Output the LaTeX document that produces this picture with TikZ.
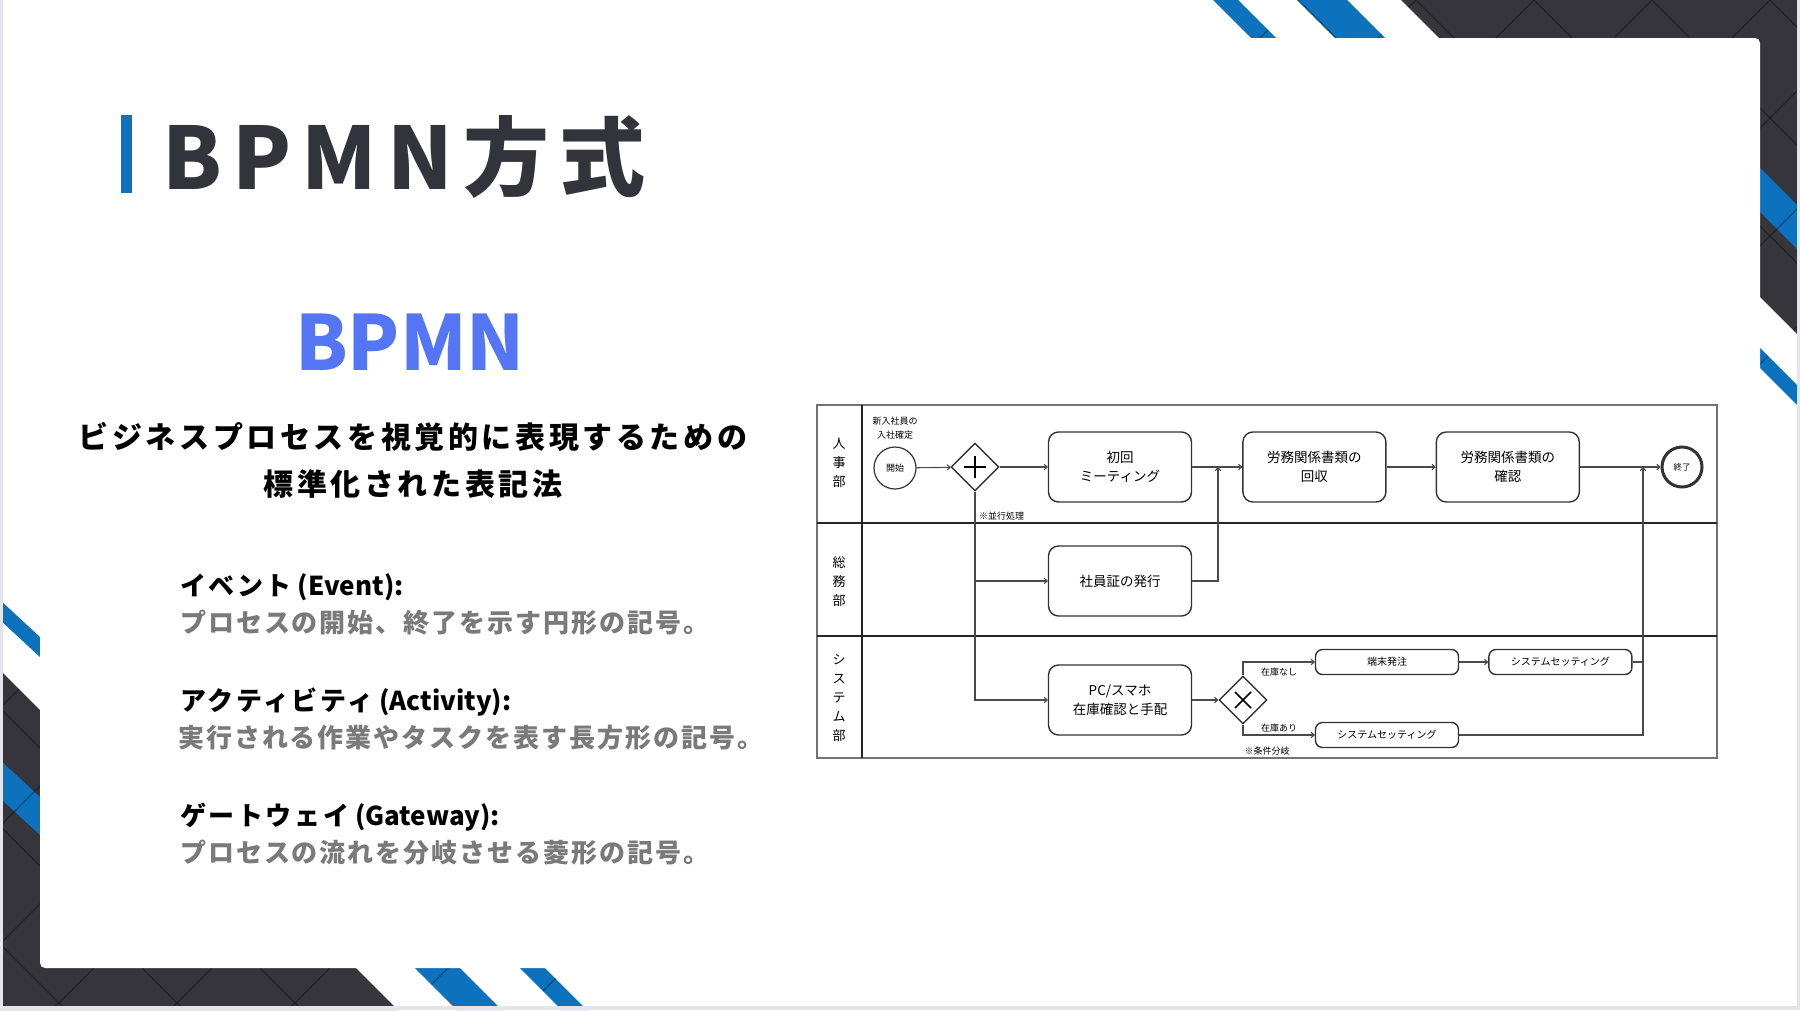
\documentclass[tikz,border=0pt]{standalone}
\usepackage{fontspec}
\setmainfont{Noto Sans CJK JP}
\newfontfamily\spacedfont{Noto Sans CJK JP}[LetterSpace=10]
\newfontfamily\leadfont{Noto Sans CJK JP}[LetterSpace=12]
\newfontfamily\detailfont{Noto Sans CJK JP}[LetterSpace=7.5]
\newfontfamily\titlefont{Noto Sans CJK JP}[LetterSpace=12]
\usepackage{tikz}
\usetikzlibrary{shapes.geometric, arrows.meta, positioning}

\definecolor{slatedark}{HTML}{35353B}
\definecolor{ribbonblue}{HTML}{0D72BD}
\definecolor{titleink}{HTML}{33333B}
\definecolor{bpmnblue}{HTML}{5476F5}
\definecolor{notegray}{HTML}{7A7A7A}
\definecolor{pageedge}{HTML}{E4E5EA}
\definecolor{flowgray}{HTML}{4A4A4A}

\newcommand{\fsz}[2]{\fontsize{#1}{#2}\selectfont}

\begin{document}
\begin{tikzpicture}[x=1pt, y=-1pt,
    task/.style={draw=black!80, line width=1.4pt, rounded corners=10pt, minimum width=143pt,
      minimum height=70pt, align=center, inner sep=0pt, font=\fsz{13.5}{19}},
    minitask/.style={task, minimum height=25pt, rounded corners=7pt, font=\fsz{10}{12}},
    event/.style={draw=black!80, circle, line width=1.2pt, minimum size=42pt, inner sep=0pt, font=\fsz{9}{10}},
    gateway/.style={draw=black!80, diamond, aspect=1, line width=1.4pt, minimum size=48pt, inner sep=0pt},
    note/.style={inner sep=0pt, align=center, font=\fsz{9}{14}},
    lanelabel/.style={inner sep=0pt, align=center, font=\fsz{13}{19}},
    flow/.style={draw=flowgray, line width=1.1pt, -{To[length=4pt,width=6pt]}},
    plainflow/.style={draw=flowgray, line width=1.1pt},
    lanerule/.style={draw=black!85, line width=1.4pt},
    latticeline/.style={draw=black, opacity=0.35, line width=1.2pt},
    heading/.style={anchor=base west, inner sep=0pt, font=\bfseries\fsz{26}{30}},
    detail/.style={anchor=base west, inner sep=0pt, text=notegray, font=\detailfont\bfseries\fsz{26}{30}}]

\useasboundingbox (0,0) rectangle (1800,1010);
\fill[white] (0,0) rectangle (1800,1010);

% corner decoration
\fill[slatedark] (1401,0) -- (1800,0) -- (1800,337) -- (1723,260) -- (1723,60) -- (1461,60) -- cycle;
\fill[slatedark] (0,670) -- (70,740) -- (70,932) -- (320,932) -- (398,1010) -- (0,1010) -- cycle;
\fill[ribbonblue] (1213,0) -- (1238,0) -- (1303,65) -- (1278,65) -- cycle;
\fill[ribbonblue] (1297,0) -- (1347,0) -- (1412,65) -- (1362,65) -- cycle;
\fill[ribbonblue] (1723,131) -- (1800,208) -- (1800,252) -- (1723,175) -- cycle;
\fill[ribbonblue] (1723,311) -- (1800,388) -- (1800,408) -- (1723,331) -- cycle;
\fill[ribbonblue] (0,600) -- (40,637) -- (40,657) -- (0,620) -- cycle;
\fill[ribbonblue] (0,760) -- (40,797) -- (40,835) -- (0,798) -- cycle;
\fill[ribbonblue] (382,935) -- (427,935) -- (502,1010) -- (457,1010) -- cycle;
\fill[ribbonblue] (487,935) -- (512,935) -- (587,1010) -- (562,1010) -- cycle;
\begin{scope}
  \clip (1401,0) -- (1800,0) -- (1800,337) -- (1723,260) -- (1723,60) -- (1461,60) -- cycle
        (0,670) -- (70,740) -- (70,932) -- (320,932) -- (398,1010) -- (0,1010) -- cycle
        (1213,0) -- (1238,0) -- (1303,65) -- (1278,65) -- cycle
        (1297,0) -- (1347,0) -- (1412,65) -- (1362,65) -- cycle
        (1723,311) -- (1800,388) -- (1800,408) -- (1723,331) -- cycle
        (0,600) -- (40,637) -- (40,657) -- (0,620) -- cycle
        (382,935) -- (427,935) -- (502,1010) -- (457,1010) -- cycle
        (487,935) -- (512,935) -- (587,1010) -- (562,1010) -- cycle;
  \foreach \k in {-10,...,26} {
    \draw[latticeline] (\k*118,0) -- ++(1200,1200);
    \draw[latticeline] (\k*118,0) -- ++(-1200,1200);
  }
\end{scope}

% slide card
\fill[white, rounded corners=5pt] (40,38) rectangle (1760,968);

% page edges
\fill[pageedge] (0,0) rectangle (3,1010);
\fill[pageedge] (0,1006) rectangle (1800,1010);
\fill[pageedge] (1797,0) rectangle (1800,1010);

% title
\fill[ribbonblue] (121,115) rectangle (132,193);
\node[anchor=base west, inner sep=0pt, text=titleink, font=\titlefont\bfseries\fsz{86}{100}] (title) at (162,189) {BPMN方式};

% left column
\node[inner sep=0pt, text=bpmnblue, font=\bfseries\fsz{76}{90}] (bpmn) at (410,342) {BPMN};
\node[anchor=base, inner sep=0pt, font=\leadfont\bfseries\fsz{30}{36}] (lead1) at (413,448) {ビジネスプロセスを視覚的に表現するための};
\node[anchor=base, inner sep=0pt, font=\leadfont\bfseries\fsz{30}{36}] (lead2) at (413,495) {標準化された表記法};

\node[heading] (evhead) at (180,595) {{\spacedfont イベント} (Event):};
\node[detail] (evtext) at (180,632) {プロセスの開始、終了を示す円形の記号。};
\node[heading] (achead) at (180,710) {{\spacedfont アクティビティ} (Activity):};
\node[detail] (actext) at (178,747) {実行される作業やタスクを表す長方形の記号。};
\node[heading] (gwhead) at (180,825) {{\spacedfont ゲートウェイ} (Gateway):};
\node[detail] (gwtext) at (180,862) {プロセスの流れを分岐させる菱形の記号。};

% swimlanes
\draw[draw=black!55, line width=2pt] (817,405) rectangle (1717,758);
\draw[lanerule] (862,405) -- (862,758);
\draw[lanerule] (817,523) -- (1717,523);
\draw[lanerule] (817,636) -- (1717,636);
\node[lanelabel] (laneHR) at (839,463) {人\\事\\部};
\node[lanelabel] (laneGA) at (839,582) {総\\務\\部};
\node[lanelabel] (laneSys) at (839,698) {シ\\ス\\テ\\ム\\部};

% flow objects
\node[event] (start) at (895,468) {開始};
\node[note] (startnote) at (895,428) {新入社員の\\入社確定};
\node[gateway] (fork) at (975,467) {};
\draw[line width=1.6pt] ([xshift=-11pt]fork.center) -- ([xshift=11pt]fork.center)
  ([yshift=-11pt]fork.center) -- ([yshift=11pt]fork.center);
\node[note, anchor=west] (forknote) at (979,516) {※並行処理};

\node[task] (meet) at (1120,467) {初回\\ミーティング};
\node[task] (card) at (1120,581) {社員証の発行};
\node[task] (pc) at (1120,700) {PC/スマホ\\在庫確認と手配};
\node[task, right=50pt of meet] (collect) {労務関係書類の\\回収};
\node[task, right=49pt of collect] (check) {労務関係書類の\\確認};
\node[event, line width=3pt, minimum size=40pt, font=\fsz{8.5}{10}] (end) at (1682,467) {終了};

\node[gateway] (xor) at (1243,700) {};
\draw[line width=1.6pt] ([shift={(-8pt,-8pt)}]xor.center) -- ([shift={(8pt,8pt)}]xor.center)
  ([shift={(-8pt,8pt)}]xor.center) -- ([shift={(8pt,-8pt)}]xor.center);
\node[minitask] (order) at (1387,662) {端末発注};
\node[minitask, right=29pt of order] (setupA) {システムセッティング};
\node[minitask] (setupB) at (1387,735) {システムセッティング};
\node[note] (nostock) at (1279,672) {在庫なし};
\node[note] (instock) at (1279,728) {在庫あり};
\node[note] (xornote) at (1267,751) {※条件分岐};

\coordinate (joinA) at (1218,467);
\coordinate (joinB) at (1643,467);

% sequence flows
\draw[flow] (start) -- (fork);
\draw[flow] (fork) -- (meet);
\draw[flow] (fork.south) |- (pc.west);
\draw[flow] (fork.south |- card.west) -- (card.west);
\draw[flow] (meet) -- (collect);
\draw[flow] (card.east) -| (joinA);
\draw[flow] (collect) -- (check);
\draw[flow] (check) -- (end);
\draw[flow] (pc) -- (xor);
\draw[flow] (xor.north) |- (order.west);
\draw[flow] (order) -- (setupA);
\draw[flow] (xor.south) |- (setupB.west);
\draw[plainflow] (setupA.east) -- (setupA.east -| joinB);
\draw[flow] (setupB.east) -| (joinB);

\end{tikzpicture}
\end{document}
